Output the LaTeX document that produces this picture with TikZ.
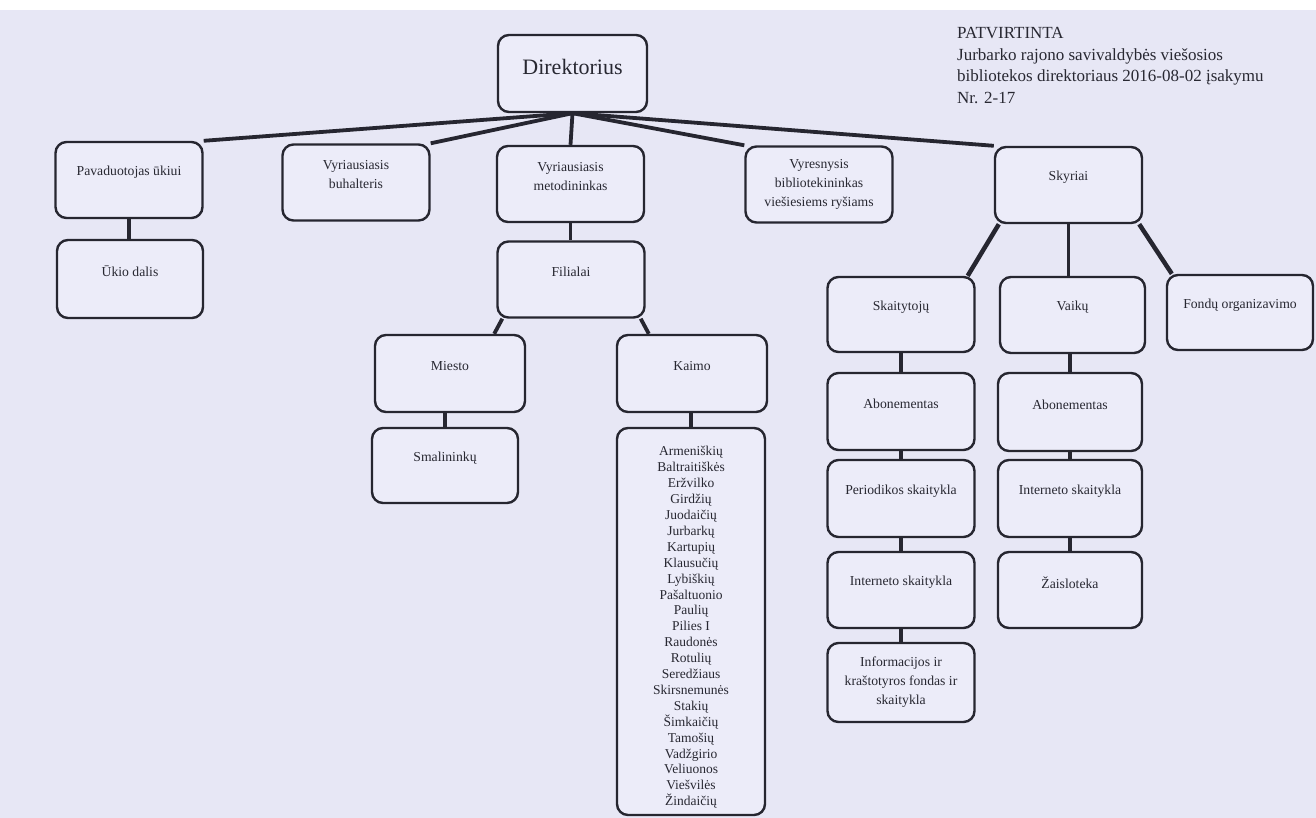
\documentclass[tikz,border=0pt]{standalone}
\usepackage{fontspec}
\setmainfont{Liberation Serif}
\usetikzlibrary{positioning}

\definecolor{bgc}{RGB}{231,231,245}
\definecolor{boxc}{RGB}{236,236,249}
\definecolor{linec}{RGB}{38,38,48}
\definecolor{txtc}{RGB}{40,40,50}

\newcommand{\boxfont}{\fontsize{13.7}{19}\selectfont}
\newcommand{\listfont}{\fontsize{13.5}{15.9}\selectfont}
\newcommand{\headfont}{\fontsize{17}{21.7}\selectfont}
\newcommand{\bossfont}{\fontsize{22}{26}\selectfont}

\tikzset{
  box/.style={draw=linec,line width=2.4pt,rounded corners=11pt,fill=boxc,
    minimum width=147pt,minimum height=76pt,inner sep=0pt,
    font=\boxfont,text=txtc,align=center},
  tagtext/.style={font=\boxfont,text=txtc,align=center,yshift=7.5pt},
  tag/.style={label={[tagtext]center:#1}},
  link/.style={draw=linec,line width=3.8pt},
  shortlink/.style={draw=linec,line width=3.2pt},
  widelink/.style={draw=linec,line width=4.5pt}
}

\begin{document}
\begin{tikzpicture}[x=1pt,y=-1pt]
            \fill[bgc] (0,0) rectangle (1316,818);
            \fill[white] (0,0) rectangle (1316,10);
            \useasboundingbox (0,0) rectangle (1316,818);
            % header
            \node [anchor=north west,align=left,font=\headfont,text=txtc,inner sep=0pt] (hdr) at (957,27)
                {PATVIRTINTA\\Jurbarko rajono savivaldybės viešosios\\bibliotekos direktoriaus 2016-08-02 įsakymu\\Nr. 2-17};
            % top
            \node [box,minimum width=149pt,minimum height=77pt,
                label={[tagtext,font=\bossfont,yshift=-1pt]center:Direktorius}] (dir) at (572.5,73.5) {};
            \node [box,tag={Pavaduotojas ūkiui}] (pav) at (129,180) {};
            \node [box,tag={Vyriausiasis\\buhalteris}] (buh) at (356,182.5) {};
            \node [box,tag={Vyriausiasis\\metodininkas}] (met) at (570.5,184) {};
            \node [box] (vyr) at (819,184.5) {Vyresnysis\\bibliotekininkas\\viešiesiems ryšiams};
            \node [box,tag={Skyriai}] (sky) at (1068.5,185) {};
            % left and middle
            \node [box,minimum width=146pt,minimum height=78pt,tag={Ūkio dalis}] (ukio) at (130,279) {};
            \node [box,tag={Filialai}] (fil) at (571,279.5) {};
            \node [box,minimum width=150pt,minimum height=77pt,tag={Miesto}] (miesto) at (450,373.5) {};
            \node [box,minimum width=150pt,minimum height=77pt,tag={Kaimo}] (kaimo) at (692,373.5) {};
            \node [box,minimum width=146pt,minimum height=75pt,tag={Smalininkų}] (smal) at (445,465.5) {};
            \node [box,minimum width=148pt,minimum height=387pt,
                label={[tagtext,font=\listfont,yshift=-13.5pt]center:{Armeniškių\\Baltraitiškės\\Eržvilko\\Girdžių\\Juodaičių\\Jurbarkų\\Kartupių\\Klausučių\\Lybiškių\\Pašaltuonio\\Paulių\\Pilies I\\Raudonės\\Rotulių\\Seredžiaus\\Skirsnemunės\\Stakių\\Šimkaičių\\Tamošių\\Vadžgirio\\Veliuonos\\Viešvilės\\Žindaičių}}] (kaimai) at (691,621.5) {};
            % right
            \node [box,minimum height=75pt,tag={Skaitytojų}] (skait) at (901,314.5) {};
            \node [box,minimum width=145pt,tag={Vaikų}] (vaik) at (1072.5,315) {};
            \node [box,minimum width=146pt,minimum height=75pt,tag={Fondų organizavimo}] (fond) at (1240,312.5) {};
            \node [box,minimum height=77pt,tag={Abonementas}] (abon1) at (901,411.5) {};
            \node [box,minimum height=77pt,tag={Periodikos skaitykla}] (period) at (901,498.5) {};
            \node [box,tag={Interneto skaitykla}] (inter1) at (901,590) {};
            \node [box,minimum height=79pt] (info) at (901,682.5) {Informacijos ir\\kraštotyros fondas ir\\skaitykla};
            \node [box,minimum width=144pt,minimum height=78pt,tag={Abonementas}] (abon2) at (1070,412) {};
            \node [box,minimum width=144pt,minimum height=77pt,tag={Interneto skaitykla}] (inter2) at (1070,498.5) {};
            \node [box,minimum width=144pt,tag={Žaisloteka}] (zais) at (1070,590) {};
            % links from the top
            \draw [link] (dir.south) -- (pav.north east);
            \draw [link] (dir.south) -- (buh.north east);
            \draw [link] (dir.south) -- (met.north);
            \draw [link] (dir.south) -- (vyr.north west);
            \draw [link] (dir.south) -- (sky.north west);
            % links below
            \draw [shortlink] (pav.south) -- (ukio.north -| pav.south);
            \draw [shortlink] (met.south) -- (fil.north -| met.south);
            \draw [link] ([xshift=6pt]fil.south west) -- ([xshift=-32pt]miesto.north east);
            \draw [link] ([xshift=-5pt]fil.south east) -- ([xshift=33pt]kaimo.north west);
            \draw [shortlink] (smal.north |- miesto.south) -- (smal.north);
            \draw [shortlink] (kaimai.north |- kaimo.south) -- (kaimai.north);
            \draw [widelink] ([xshift=5pt]sky.south west) -- ([xshift=-8pt]skait.north east);
            \draw [shortlink] (sky.south) -- (sky.south |- vaik.north);
            \draw [widelink] ([xshift=-4pt]sky.south east) -- ([xshift=6pt]fond.north west);
            \draw [shortlink] (skait.south) -- (abon1.north);
            \draw [shortlink] (abon1.south) -- (period.north);
            \draw [shortlink] (period.south) -- (inter1.north);
            \draw [shortlink] (inter1.south) -- (info.north);
            \draw [shortlink] (abon2.north |- vaik.south) -- (abon2.north);
            \draw [shortlink] (abon2.south) -- (inter2.north);
            \draw [shortlink] (inter2.south) -- (zais.north);
        \end{tikzpicture}
\end{document}
